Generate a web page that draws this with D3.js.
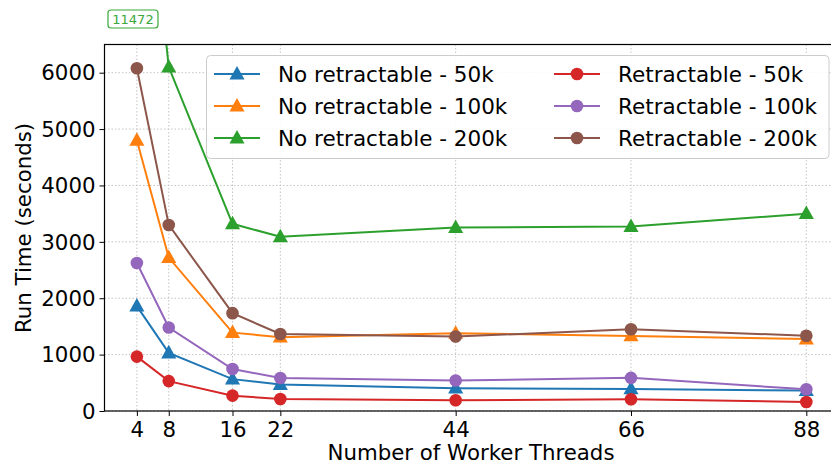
<!DOCTYPE html>
<html>
<head>
<meta charset="utf-8">
<script src="https://cdn.jsdelivr.net/npm/d3@7"></script>
<style>
  html, body { margin: 0; padding: 0; background: #fff; }
  svg { display: block; font-family: "DejaVu Sans", sans-serif; }
</style>
</head>
<body>
<svg id="chart" width="831" height="469"></svg>
<script>
// Worker thread counts on the x axis
const threads = [4, 8, 16, 22, 44, 66, 88];
const xTicks = [4, 8, 16, 22, 44, 66, 88];
const yTicks = [0, 1000, 2000, 3000, 4000, 5000, 6000];

// Run times in seconds
const noRetract50k  = [1860, 1030, 565, 470, 405, 392, 362];
const noRetract100k = [4800, 2720, 1390, 1310, 1380, 1332, 1275];
const noRetract200k = [11472, 6100, 3320, 3090, 3255, 3270, 3500];
const retract50k    = [965, 530, 272, 212, 190, 208, 160];
const retract100k   = [2625, 1480, 745, 585, 540, 588, 385];
const retract200k   = [6080, 3300, 1735, 1365, 1320, 1450, 1335];

const seriesNames = [
  "No retractable - 50k", "No retractable - 100k", "No retractable - 200k",
  "Retractable - 50k", "Retractable - 100k", "Retractable - 200k"
];
const seriesValues = [noRetract50k, noRetract100k, noRetract200k, retract50k, retract100k, retract200k];
const seriesColors = ["#1f77b4", "#ff7f0e", "#2ca02c", "#d62728", "#9467bd", "#8c564b"];
const seriesMarkers = ["triangle", "triangle", "triangle", "circle", "circle", "circle"];

const svg = d3.select("#chart");
const plot = { left: 104.5, top: 44.5, right: 838, bottom: 411 };

const x = d3.scaleLinear().domain([0, 92]).range([105, 838.2]);
const y = d3.scaleLinear().domain([0, 6500]).range([plot.bottom, plot.top]);

svg.append("defs").append("clipPath").attr("id", "plotClip")
  .append("rect")
  .attr("x", plot.left).attr("y", plot.top)
  .attr("width", plot.right - plot.left).attr("height", plot.bottom - plot.top);

// Dotted grid
const grid = svg.append("g").attr("class", "grid");
grid.selectAll("line.gx").data(xTicks).join("line")
  .attr("x1", d => x(d)).attr("x2", d => x(d))
  .attr("y1", plot.top).attr("y2", plot.bottom)
  .attr("stroke", "#c4c4c4").attr("stroke-width", 1).attr("stroke-dasharray", "1.5,2");
grid.selectAll("line.gy").data(yTicks).join("line")
  .attr("x1", plot.left).attr("x2", plot.right)
  .attr("y1", d => y(d)).attr("y2", d => y(d))
  .attr("stroke", "#c4c4c4").attr("stroke-width", 1).attr("stroke-dasharray", "1.5,2");

// Series lines and markers
const triPath = (s) => {
  const h = s * 1.0;
  return `M0,${-h * 0.62}L${h * 0.58},${h * 0.42}L${-h * 0.58},${h * 0.42}Z`;
};
const line = d3.line().x((d, i) => x(threads[i])).y(d => y(d));
const marks = svg.append("g").attr("clip-path", "url(#plotClip)");
seriesValues.forEach((vals, si) => {
  const g = marks.append("g");
  g.append("path").datum(vals)
    .attr("d", line)
    .attr("fill", "none")
    .attr("stroke", seriesColors[si])
    .attr("stroke-width", 2);
  if (seriesMarkers[si] === "circle") {
    g.selectAll("circle").data(vals).join("circle")
      .attr("cx", (d, i) => x(threads[i])).attr("cy", d => y(d))
      .attr("r", 6.3).attr("fill", seriesColors[si]);
  } else {
    g.selectAll("path.m").data(vals).join("path")
      .attr("class", "m")
      .attr("transform", (d, i) => `translate(${x(threads[i])},${y(d)})`)
      .attr("d", triPath(13)).attr("fill", seriesColors[si]);
  }
});

// Axes
const xAxis = d3.axisBottom(x).tickValues(xTicks).tickSize(5).tickPadding(4);
const yAxis = d3.axisLeft(y).tickValues(yTicks).tickFormat(d3.format("d")).tickSize(5).tickPadding(4);
const gx = svg.append("g").attr("transform", `translate(0,${plot.bottom})`).call(xAxis);
const gy = svg.append("g").attr("transform", `translate(${plot.left},0)`).call(yAxis);
[gx, gy].forEach(g => {
  g.select(".domain").remove();
  g.selectAll(".tick line").attr("stroke", "#000").attr("stroke-width", 1);
  g.selectAll(".tick text").attr("fill", "#000").attr("font-size", 21.3)
    .attr("font-family", "DejaVu Sans, sans-serif");
});
gx.selectAll(".tick text").attr("dy", "0.8em");
gy.selectAll(".tick text").attr("dy", "0.34em");

// Spines
svg.append("rect")
  .attr("x", plot.left).attr("y", plot.top)
  .attr("width", plot.right - plot.left).attr("height", plot.bottom - plot.top)
  .attr("fill", "none").attr("stroke", "#000").attr("stroke-width", 1.2);

// Axis titles
svg.append("text")
  .attr("x", 471).attr("y", 460)
  .attr("text-anchor", "middle").attr("font-size", 21.3).attr("fill", "#000")
  .text("Number of Worker Threads");
svg.append("text")
  .attr("transform", "translate(31,228) rotate(-90)")
  .attr("text-anchor", "middle").attr("font-size", 21.3).attr("fill", "#000")
  .text("Run Time (seconds)");

// Off-scale value callout for the first 200k point
const peak = noRetract200k[0];
const callout = svg.append("g").attr("transform", `translate(${x(threads[0]) - 3.9},19)`);
callout.append("rect")
  .attr("x", -25).attr("y", -9).attr("width", 50).attr("height", 18)
  .attr("rx", 3).attr("fill", "#fff").attr("stroke", "#3aa83a").attr("stroke-width", 1.2);
callout.append("text")
  .attr("text-anchor", "middle").attr("dy", "0.36em")
  .attr("font-size", 13).attr("fill", "#3aa83a")
  .text(peak);

// Legend
const legend = svg.append("g");
legend.append("rect")
  .attr("x", 206.5).attr("y", 55.5).attr("width", 622.5).attr("height", 103)
  .attr("rx", 4).attr("fill", "#fff").attr("fill-opacity", 0.85)
  .attr("stroke", "#cccccc").attr("stroke-width", 1);
const colX = [214, 554];
const rowY = [74, 106, 138];
seriesNames.forEach((name, si) => {
  const col = Math.floor(si / 3), row = si % 3;
  const lx = colX[col], ly = rowY[row];
  const item = legend.append("g");
  item.append("line")
    .attr("x1", lx).attr("x2", lx + 46).attr("y1", ly).attr("y2", ly)
    .attr("stroke", seriesColors[si]).attr("stroke-width", 2);
  if (seriesMarkers[si] === "circle") {
    item.append("circle").attr("cx", lx + 23).attr("cy", ly).attr("r", 6.3)
      .attr("fill", seriesColors[si]);
  } else {
    item.append("path").attr("transform", `translate(${lx + 23},${ly})`)
      .attr("d", triPath(13)).attr("fill", seriesColors[si]);
  }
  item.append("text")
    .attr("x", lx + 64).attr("y", ly).attr("dy", "0.36em")
    .attr("font-size", 21.5).attr("fill", "#000")
    .text(name);
});
</script>
</body>
</html>
